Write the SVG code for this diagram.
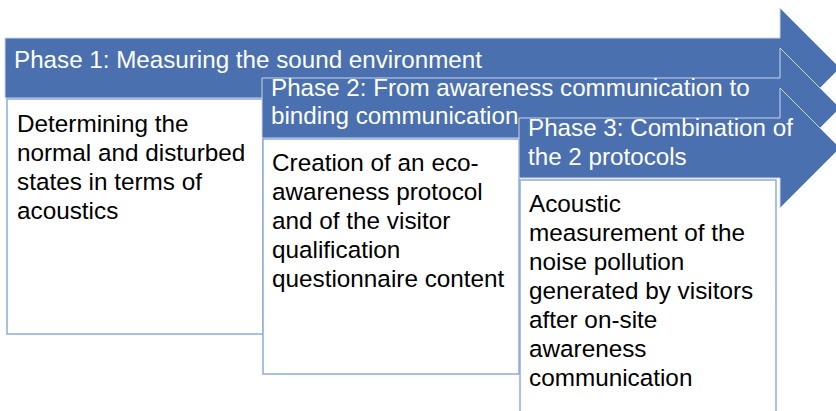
<svg xmlns="http://www.w3.org/2000/svg" width="836" height="411" viewBox="0 0 836 411">
<style>
.arrow{fill:#4a70b0;stroke:#c9d5ec;stroke-width:1}
.box{fill:#ffffff;stroke:#8eaadb;stroke-width:1.5}
.ht{font-family:"Liberation Sans",Arial,sans-serif;font-size:24.2px;fill:#ffffff}
.bt{font-family:"Liberation Sans",Arial,sans-serif;font-size:24.3px;fill:#000000}
</style>
<rect width="836" height="411" fill="#ffffff"/>
<g id="phase1">
<path class="arrow" d="M5,38 H780 V8 L840,68 L780,128 V98 H5 Z"/>
<text class="ht" x="14" y="68">Phase 1: Measuring the sound environment</text>
</g>
<g id="box1">
<rect class="box" x="7" y="99" width="256" height="235"/>
<text class="bt" x="17" y="132">Determining the</text>
<text class="bt" x="17" y="161">normal and disturbed</text>
<text class="bt" x="17" y="190">states in terms of</text>
<text class="bt" x="17" y="219">acoustics</text>
</g>
<g id="phase2">
<path class="arrow" d="M262,78 H780 V48 L840,108 L780,168 V138 H262 Z"/>
<text class="ht" x="271" y="96">Phase 2: From awareness communication to</text>
<text class="ht" x="271" y="124">binding communication</text>
</g>
<g id="box2">
<rect class="box" x="263" y="139" width="256" height="235"/>
<text class="bt" x="272" y="171">Creation of an eco-</text>
<text class="bt" x="272" y="200">awareness protocol</text>
<text class="bt" x="272" y="229">and of the visitor</text>
<text class="bt" x="272" y="258">qualification</text>
<text class="bt" x="272" y="287">questionnaire content</text>
</g>
<g id="phase3">
<path class="arrow" d="M519,118 H780 V88 L840,148 L780,208 V178 H519 Z"/>
<text class="ht" x="528" y="136">Phase 3: Combination of</text>
<text class="ht" x="528" y="165">the 2 protocols</text>
</g>
<g id="box3">
<rect class="box" x="520" y="180" width="256" height="240"/>
<text class="bt" x="529" y="212">Acoustic</text>
<text class="bt" x="529" y="241">measurement of the</text>
<text class="bt" x="529" y="270">noise pollution</text>
<text class="bt" x="529" y="299">generated by visitors</text>
<text class="bt" x="529" y="328">after on-site</text>
<text class="bt" x="529" y="357">awareness</text>
<text class="bt" x="529" y="386">communication</text>
</g>
<g id="connectors"></g>
</svg>
